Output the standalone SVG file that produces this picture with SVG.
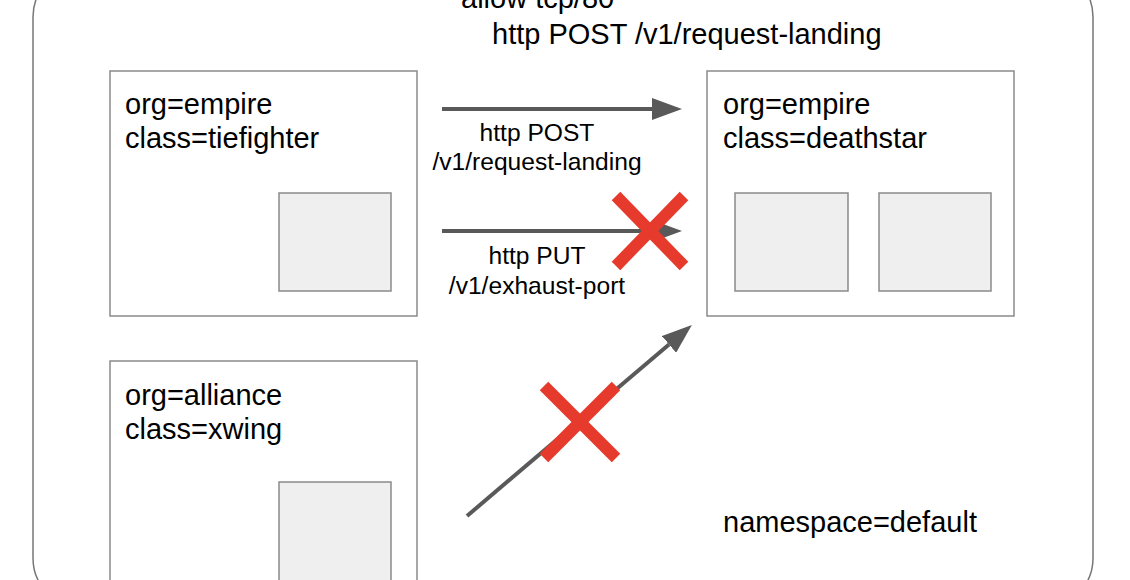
<svg xmlns="http://www.w3.org/2000/svg" width="1130" height="580" viewBox="0 0 1130 580">
<style>
text{font-family:"Liberation Sans",Arial,sans-serif;fill:#000}
.lbl{font-size:29px}
.sm{font-size:24.6px;text-anchor:middle}
.box{fill:#fff;stroke:#8a8a8a;stroke-width:1.5}
.pod{fill:#efefef;stroke:#8a8a8a;stroke-width:1.5}
.arr{stroke:#595959;stroke-width:4;fill:none;marker-end:url(#ah)}
.x{stroke:#e63a2c;stroke-width:12;stroke-linecap:butt}
</style>
<defs>
<marker id="ah" markerUnits="userSpaceOnUse" markerWidth="30" markerHeight="22" refX="0" refY="11" orient="auto">
<path d="M0,0 L30,11 L0,22 z" fill="#595959"/>
</marker>
</defs>
<rect width="1130" height="580" fill="#fff"/>
<g id="namespace">
<rect x="33" y="-33" width="1060" height="641" rx="50" ry="50" fill="none" stroke="#777" stroke-width="1.5"/>
<text class="lbl" x="461" y="8">allow tcp/80</text>
<text class="lbl" x="492" y="44">http POST /v1/request-landing</text>
<text class="lbl" x="723" y="532">namespace=default</text>
</g>
<g id="tiefighter">
<rect class="box" x="110" y="71" width="307" height="245"/>
<rect class="pod" x="279" y="193" width="112" height="98"/>
<text class="lbl" x="125" y="114">org=empire</text>
<text class="lbl" x="125" y="148">class=tiefighter</text>
</g>
<g id="deathstar">
<rect class="box" x="707" y="71" width="307" height="245"/>
<rect class="pod" x="735" y="193" width="113" height="98"/>
<rect class="pod" x="879" y="193" width="112" height="98"/>
<text class="lbl" x="723" y="114">org=empire</text>
<text class="lbl" x="723" y="148">class=deathstar</text>
</g>
<g id="xwing">
<rect class="box" x="110" y="361" width="307" height="240"/>
<rect class="pod" x="279" y="482" width="112" height="120"/>
<text class="lbl" x="125" y="405">org=alliance</text>
<text class="lbl" x="125" y="439">class=xwing</text>
</g>
<g id="connectors">
<line class="arr" x1="442" y1="109" x2="652" y2="109"/>
<text class="sm" x="537" y="141">http POST</text>
<text class="sm" x="537" y="170">/v1/request-landing</text>
<line class="arr" x1="442" y1="231" x2="652" y2="231"/>
<text class="sm" x="537" y="264">http PUT</text>
<text class="sm" x="537" y="294">/v1/exhaust-port</text>
<line class="x" x1="616" y1="196" x2="684" y2="266"/>
<line class="x" x1="684" y1="196" x2="616" y2="266"/>
<line class="arr" x1="467" y1="516" x2="669" y2="344.4"/>
<line class="x" x1="544" y1="386" x2="616" y2="458"/>
<line class="x" x1="616" y1="386" x2="544" y2="458"/>
</g>
</svg>
